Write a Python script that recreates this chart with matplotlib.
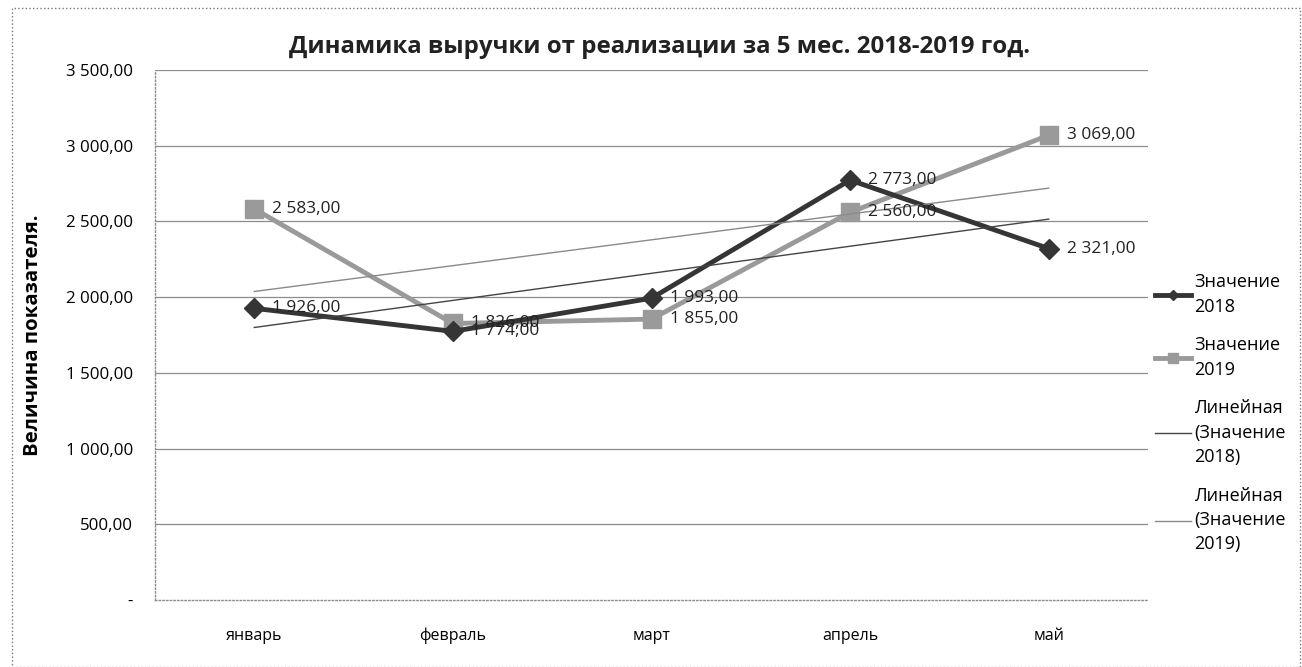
import matplotlib.pyplot as plt
import matplotlib.patches as patches
import numpy as np

plt.rcParams['font.family'] = ['Open Sans', 'DejaVu Sans']

# данные
Mesyacy = ['январь', 'февраль', 'март', 'апрель', 'май']
Znach_2018 = [1926, 1774, 1993, 2773, 2321]
Znach_2019 = [2583, 1826, 1855, 2560, 3069]
Y_ticks = [0, 500, 1000, 1500, 2000, 2500, 3000, 3500]


def fmt(v):
    if v == 0:
        return '-'
    s = '{:,.2f}'.format(v)
    return s.replace(',', ' ').replace('.', ',')


fig = plt.figure(figsize=(13.02, 6.67), dpi=100)
ax = fig.add_axes([155 / 1302, 67 / 667, 993 / 1302, 530 / 667])

X = np.arange(len(Mesyacy))

# линии и маркеры
l1, = ax.plot(X, Znach_2018, color='#353535', lw=3.5, marker='D', ms=10, zorder=4,
              label='Значение\n2018')
l2, = ax.plot(X, Znach_2019, color='#9a9a9a', lw=3.5, marker='s', ms=13, zorder=3,
              label='Значение\n2019')

# линейные тренды
k1 = np.polyfit(X, Znach_2018, 1)
k2 = np.polyfit(X, Znach_2019, 1)
l3, = ax.plot(X, np.polyval(k1, X), color='#444444', lw=1.0, zorder=5,
              label='Линейная\n(Значение\n2018)')
l4, = ax.plot(X, np.polyval(k2, X), color='#8a8a8a', lw=1.0, zorder=5,
              label='Линейная\n(Значение\n2019)')

# подписи данных
for i in range(len(X)):
    ax.annotate(fmt(Znach_2018[i]), (X[i], Znach_2018[i]), xytext=(13, 0),
                textcoords='offset points', va='center', ha='left', fontsize=12.4,
                color='#222222', zorder=6)
    ax.annotate(fmt(Znach_2019[i]), (X[i], Znach_2019[i]), xytext=(13, 0),
                textcoords='offset points', va='center', ha='left', fontsize=12.4,
                color='#222222', zorder=6)

ax.set_xlim(-0.5, 4.5)
ax.set_ylim(0, 3500)
ax.set_xticks(X)
ax.set_xticklabels(Mesyacy, fontsize=11.5)
ax.set_yticks(Y_ticks)
ax.set_yticklabels([fmt(v) for v in Y_ticks], fontsize=12.2)
ax.tick_params(length=0, pad=16)
ax.tick_params(axis='x', pad=20)

for v in Y_ticks[1:]:
    ax.axhline(v, color='#8c8c8c', lw=0.9, zorder=1)
for s in ['top', 'right']:
    ax.spines[s].set_visible(False)
for s in ['left', 'bottom']:
    ax.spines[s].set_color('#8c8c8c')
    ax.spines[s].set_linestyle(':')
    ax.spines[s].set_linewidth(1.0)

ax.set_ylabel('Величина показателя.', fontsize=14.7, fontweight='bold', labelpad=16)
fig.text(660 / 1302, 1 - 47 / 667, 'Динамика выручки от реализации за 5 мес. 2018-2019 год.',
         ha='center', va='center', fontsize=17.3, fontweight='bold', color='#222222')

leg = fig.legend(handles=[l1, l2, l3, l4], loc='upper left',
                 bbox_to_anchor=(1148 / 1302, 1 - 266 / 667), frameon=False,
                 fontsize=13, handlelength=2.0, handletextpad=0.15,
                 labelspacing=1.15, borderaxespad=0, markerscale=0.55)
for t in leg.get_texts():
    t.set_linespacing(1.45)

# рамка вокруг диаграммы
fig.patches.append(patches.Rectangle((12 / 1302, 0), 1288 / 1302, 1 - 8 / 667,
                                     transform=fig.transFigure, fill=False,
                                     ls=':', lw=1.0, ec='#777777'))

plt.savefig('out.png', dpi=100)
